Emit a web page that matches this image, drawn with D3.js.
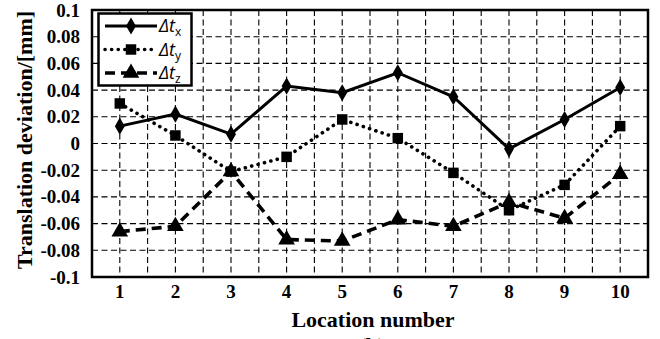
<!DOCTYPE html>
<html>
<head>
<meta charset="utf-8">
<script src="https://cdn.jsdelivr.net/npm/d3@7"></script>
<style>
  html, body { margin: 0; padding: 0; background: #fff; }
  svg { display: block; }
</style>
</head>
<body>
<svg id="chart" width="660" height="339"></svg>
<script>
// Location numbers along the x axis
const locations = [1, 2, 3, 4, 5, 6, 7, 8, 9, 10];
// Translation deviations in mm for each location
const dtx = [0.013, 0.022, 0.007, 0.043, 0.038, 0.053, 0.035, -0.004, 0.018, 0.042];
const dty = [0.030, 0.006, -0.021, -0.010, 0.018, 0.004, -0.022, -0.050, -0.031, 0.013];
const dtz = [-0.066, -0.062, -0.021, -0.072, -0.073, -0.057, -0.062, -0.044, -0.056, -0.023];
const yTicks = [0.1, 0.08, 0.06, 0.04, 0.02, 0, -0.02, -0.04, -0.06, -0.08, -0.1];
const seriesNames = ["x", "y", "z"];

const svg = d3.select("#chart");
const margin = { left: 92, right: 12, top: 10, bottom: 62 };
const W = 660, H = 339;
const pw = W - margin.left - margin.right;
const ph = H - margin.top - margin.bottom;

const x = d3.scaleBand().domain(locations).range([margin.left, margin.left + pw]).padding(0);
const y = d3.scaleLinear().domain([-0.1, 0.1]).range([margin.top + ph, margin.top]);
const cx = d => x(d) + x.bandwidth() / 2;

const serif = "'Liberation Serif', 'Times New Roman', serif";

// Dashed grid: horizontal at each tick, vertical at band centres and band edges
const grid = svg.append("g").attr("stroke", "#000").attr("stroke-width", 1.1)
  .attr("stroke-dasharray", "6,3.5").attr("fill", "none");
yTicks.slice(1, -1).forEach(t => {
  grid.append("line").attr("x1", margin.left).attr("x2", margin.left + pw)
    .attr("y1", y(t)).attr("y2", y(t));
});
const vLines = [];
locations.forEach((d, i) => {
  vLines.push(cx(d));
  if (i < locations.length - 1) vLines.push(x(d) + x.bandwidth());
});
vLines.forEach(v => {
  grid.append("line").attr("x1", v).attr("x2", v)
    .attr("y1", margin.top).attr("y2", margin.top + ph);
});

// Axes (labels only, frame drawn separately)
const yAxis = svg.append("g").attr("transform", `translate(${margin.left},0)`)
  .call(d3.axisLeft(y).tickValues(yTicks).tickSize(0).tickPadding(12)
    .tickFormat(d => d === 0 ? "0" : String(+d.toFixed(2))));
yAxis.select(".domain").remove();
yAxis.selectAll("text").attr("font-family", serif).attr("font-weight", "bold")
  .attr("font-size", 19).attr("fill", "#000");

const xAxis = svg.append("g").attr("transform", `translate(0,${margin.top + ph})`)
  .call(d3.axisBottom(x).tickSize(0).tickPadding(8));
xAxis.select(".domain").remove();
xAxis.selectAll("text").attr("font-family", serif).attr("font-weight", "bold")
  .attr("font-size", 19).attr("fill", "#000");

// Plot frame
svg.append("rect").attr("x", margin.left).attr("y", margin.top)
  .attr("width", pw).attr("height", ph)
  .attr("fill", "none").attr("stroke", "#000").attr("stroke-width", 2.5);

// Axis titles
svg.append("text").attr("x", 373).attr("y", 327)
  .attr("text-anchor", "middle").attr("font-family", serif).attr("font-weight", "bold")
  .attr("font-size", 22).text("Location number");
svg.append("text").attr("x", 372).attr("y", 353)
  .attr("text-anchor", "middle").attr("font-family", serif).attr("font-weight", "bold")
  .attr("font-size", 22).text("(b)");
svg.append("text").attr("transform", `translate(32,140) rotate(-90)`)
  .attr("text-anchor", "middle").attr("font-family", serif).attr("font-weight", "bold")
  .attr("font-size", 22).text("Translation deviation/[mm]");

// Series styles
const styles = [
  { data: dtx, dash: null, cap: "butt", width: 3, symbol: d3.symbolDiamond, size: 85 },
  { data: dty, dash: "0.1,6.5", cap: "round", width: 3.6, symbol: d3.symbolSquare, size: 110 },
  { data: dtz, dash: "10,6", cap: "butt", width: 3.6, symbol: d3.symbolTriangle, size: 120 }
];

const line = d3.line().x((d, i) => cx(locations[i])).y(d => y(d));

styles.forEach(s => {
  svg.append("path").datum(s.data).attr("d", line)
    .attr("fill", "none").attr("stroke", "#000").attr("stroke-width", s.width)
    .attr("stroke-linecap", s.cap).attr("stroke-linejoin", "miter")
    .attr("stroke-dasharray", s.dash);
  svg.append("g").selectAll("path").data(s.data).join("path")
    .attr("transform", (d, i) => `translate(${cx(locations[i])},${y(d)})`)
    .attr("d", d3.symbol().type(s.symbol).size(s.size)).attr("fill", "#000");
});

// Legend
const lg = svg.append("g");
lg.append("rect").attr("x", 98.5).attr("y", 13.5).attr("width", 93).attr("height", 72)
  .attr("fill", "#fff").attr("stroke", "#000").attr("stroke-width", 2.5);
const rowsY = [26, 49.5, 73];
styles.forEach((s, i) => {
  const yy = rowsY[i];
  lg.append("line").attr("x1", 105).attr("x2", 157).attr("y1", yy).attr("y2", yy)
    .attr("stroke", "#000").attr("stroke-width", s.width)
    .attr("stroke-linecap", s.cap).attr("stroke-dasharray", s.dash);
  lg.append("path").attr("transform", `translate(131,${yy})`)
    .attr("d", d3.symbol().type(s.symbol).size(s.size)).attr("fill", "#000");
  const t = lg.append("text").attr("x", 159).attr("y", yy + 6)
    .attr("font-family", "'Open Sans', 'Liberation Sans', sans-serif")
    .attr("font-style", "italic").attr("font-size", 18).attr("fill", "#000");
  t.append("tspan").text("\u0394t");
  t.append("tspan").attr("dy", 4).attr("font-size", 12).attr("font-style", "normal")
    .text(seriesNames[i]);
});
</script>
</body>
</html>
